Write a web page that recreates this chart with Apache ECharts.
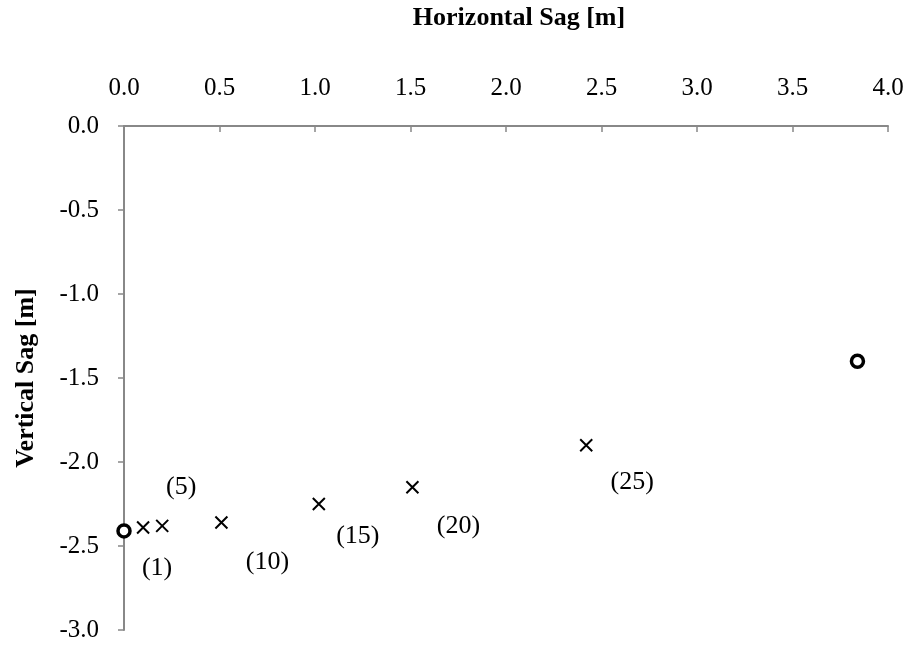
<!DOCTYPE html>
<html>
<head>
<meta charset="utf-8">
<script src="https://cdn.jsdelivr.net/npm/echarts@6/dist/echarts.min.js"></script>
<style>
  html, body { margin: 0; padding: 0; background: #fff; }
  #main { width: 915px; height: 645px; }
</style>
</head>
<body>
<div id="main"></div>
<script>
// 数据
var crossX = [0.1, 0.2, 0.51, 1.02, 1.51, 2.42];
var crossY = [-2.39, -2.38, -2.36, -2.25, -2.15, -1.9];
var circleX = [0.0, 3.84];
var circleY = [-2.41, -1.4];
var pointLabels = ['(1)', '(5)', '(10)', '(15)', '(20)', '(25)'];

// 标签偏移（样式）
var labelOffsets = [[14, 41], [19, -39], [46, 40], [39, 32], [46, 39], [46, 37]];

var chart = echarts.init(document.getElementById('main'));
var font = 'Liberation Serif, Times New Roman, serif';
var axisGray = '#888888';

var crossData = crossX.map(function (x, i) {
    return {
        value: [x, crossY[i]],
        label: {
            show: true,
            formatter: pointLabels[i],
            position: 'inside',
            offset: labelOffsets[i],
            color: '#000',
            fontFamily: font,
            fontSize: 26
        }
    };
});
var circleData = circleX.map(function (x, i) {
    return [x, circleY[i]];
});

var option = {
    backgroundColor: '#fff',
    animation: false,
    grid: { left: 124, right: 27, top: 126, bottom: 15 },
    xAxis: {
        type: 'value',
        position: 'top',
        min: 0, max: 4, interval: 0.5,
        name: 'Horizontal Sag [m]',
        nameLocation: 'middle',
        nameGap: 95,
        nameTextStyle: { fontFamily: font, fontSize: 26, fontWeight: 'bold', color: '#000', padding: [0, 0, 0, 26] },
        axisLine: { show: true, onZero: false, lineStyle: { color: axisGray, width: 2 } },
        axisTick: { show: true, inside: true, length: 6, lineStyle: { color: axisGray, width: 1.5 } },
        axisLabel: {
            margin: 25,
            fontFamily: font, fontSize: 25, color: '#000',
            formatter: function (v) { return v.toFixed(1); }
        },
        splitLine: { show: false }
    },
    yAxis: {
        type: 'value',
        min: -3, max: 0, interval: 0.5,
        name: 'Vertical Sag [m]',
        nameLocation: 'middle',
        nameGap: 85,
        nameTextStyle: { fontFamily: font, fontSize: 26, fontWeight: 'bold', color: '#000' },
        axisLine: { show: true, onZero: false, lineStyle: { color: axisGray, width: 2 } },
        axisTick: { show: true, inside: false, length: 6, lineStyle: { color: axisGray, width: 1.5 } },
        axisLabel: {
            margin: 25,
            fontFamily: font, fontSize: 25, color: '#000',
            formatter: function (v) { return v.toFixed(1); }
        },
        splitLine: { show: false }
    },
    series: [
        {
            type: 'scatter',
            data: crossData,
            symbol: 'path://M0,0L10,10M10,0L0,10',
            symbolSize: 12,
            itemStyle: { color: 'transparent', borderColor: '#000', borderWidth: 2, opacity: 1 }
        },
        {
            type: 'scatter',
            data: circleData,
            symbol: 'circle',
            symbolSize: 12,
            itemStyle: { color: '#fff', borderColor: '#000', borderWidth: 3.5, opacity: 1 }
        }
    ]
};

chart.setOption(option);
</script>
</body>
</html>
